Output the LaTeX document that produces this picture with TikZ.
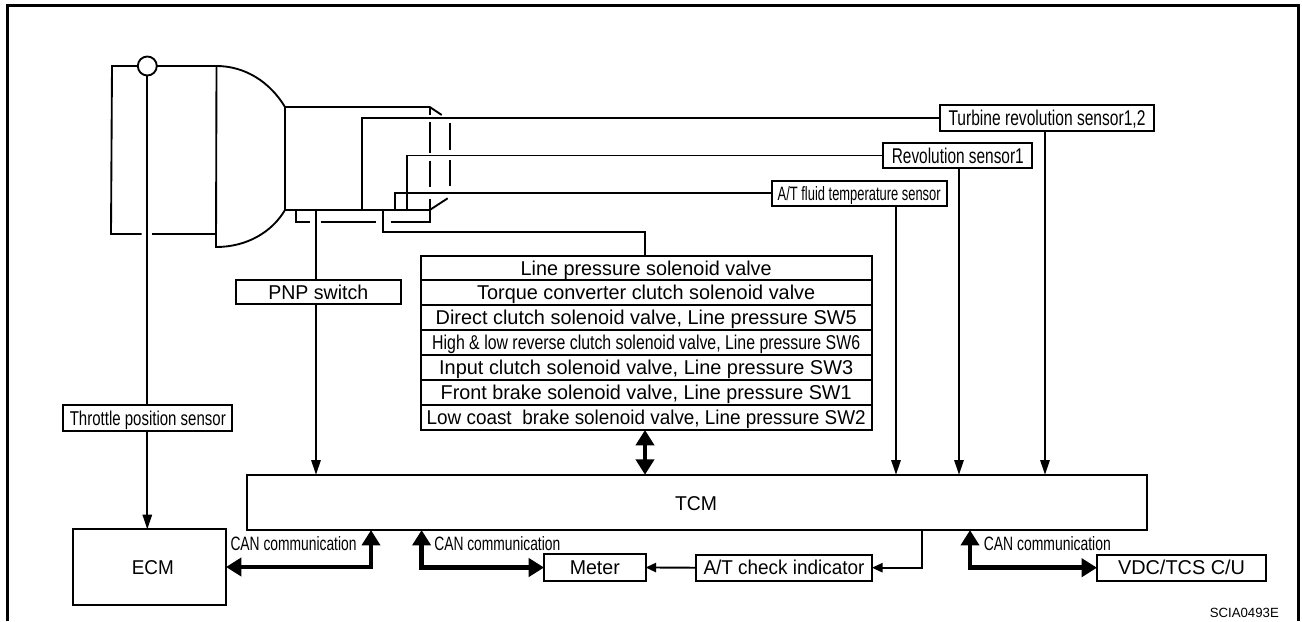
\documentclass[tikz,border=0pt]{standalone}
\usepackage{fontspec}
\usepackage{graphicx}
\setmainfont{Liberation Sans}
\usetikzlibrary{arrows.meta}
% set text to a given width in reference pixels, keeping its height
\newcommand{\fw}[2]{\resizebox{\dimexpr#1pt*3/4\relax}{\height}{#2}}
\tikzset{
  x=0.75pt,y=-0.75pt,
  ln/.style={line width=1.4pt,black},
  frameln/.style={line width=2.25pt,black},
  thin arrow/.style={ln,-{Triangle[length=11pt,width=7pt]}},
  small arrow/.style={ln,-{Triangle[length=8pt,width=7pt]}},
  heavy arrow/.style={line width=3.7pt,black,{Triangle[length=11.5pt,width=13.5pt]}-{Triangle[length=11.5pt,width=13.5pt]}},
  bx/.style={draw,line width=1.5pt,fill=white,inner sep=0pt,outer sep=0pt,text height=10.7pt,text depth=0pt,font=\fontsize{15pt}{17pt}\selectfont},
  tall/.style={text height=11.4pt,font=\fontsize{16pt}{18pt}\selectfont},
  lab/.style={inner sep=0pt,text height=10.4pt,text depth=0pt,font=\fontsize{14.5pt}{16pt}\selectfont},
  tablerow/.style={bx,minimum width=338.25pt,minimum height=18.75pt},
}
\begin{document}
\begin{tikzpicture}
\useasboundingbox (0,0) rectangle (1302,621);
% frame
\draw[frameln] (7.5,621) -- (7.5,5.5) -- (1298.5,5.5) -- (1298.5,621);

% boxes
\node[draw,circle,ln,fill=white,minimum size=14.25pt,inner sep=0pt,outer sep=0pt] (thr) at (147.3,66) {};
\node[bx,minimum width=126.75pt,minimum height=19.3pt] (tps) at (147.8,417.9) {\fw{156}{Throttle position sensor}};
\node[bx,minimum width=123.5pt,minimum height=18.2pt] (pnp) at (318.3,292.2) {\fw{100}{PNP switch}};
\node[bx,tall,minimum width=160.5pt,minimum height=19pt] (turb) at (1047,118) {\fw{197}{Turbine revolution sensor1,2}};
\node[bx,tall,minimum width=111.75pt,minimum height=18.3pt] (rev) at (957.8,155.5) {\fw{132}{Revolution sensor1}};
\node[bx,minimum width=131.25pt,minimum height=18.75pt,text height=10.4pt,font=\fontsize{14.5pt}{16pt}\selectfont] (atf) at (859.2,193.2) {\fw{163}{A/T fluid temperature sensor}};
\node[tablerow] (r1) at (646.2,268) {\fw{251}{Line pressure solenoid valve}};
\node[tablerow] (r2) at (646.2,292.5) {\fw{338}{Torque converter clutch solenoid valve}};
\node[tablerow] (r3) at (646.2,317.5) {\fw{421}{Direct clutch solenoid valve, Line pressure SW5}};
\node[tablerow] (r4) at (646.2,342.5) {\fw{428}{High \& low reverse clutch solenoid valve, Line pressure SW6}};
\node[tablerow] (r5) at (646.2,367.5) {\fw{414}{Input clutch solenoid valve, Line pressure SW3}};
\node[tablerow] (r6) at (646.2,392.5) {\fw{411}{Front brake solenoid valve, Line pressure SW1}};
\node[tablerow] (r7) at (646.2,417.5) {\fw{439}{Low coast\ \ brake solenoid valve, Line pressure SW2}};
\node[bx,minimum width=675.45pt,minimum height=41.5pt] (tcm) at (697,502.4) {};
\node[inner sep=0pt,text height=10.7pt,text depth=0pt,font=\fontsize{15pt}{17pt}\selectfont] (tcmt) at (696,503) {\fw{42}{TCM}};
\node[bx,minimum width=114.75pt,minimum height=56.55pt] (ecm) at (149.5,567) {\hspace*{5pt}\fw{42}{ECM}};
\node[bx,minimum width=76.1pt,minimum height=19.8pt] (meter) at (594.8,567.5) {\fw{50}{Meter}};
\node[bx,minimum width=132pt,minimum height=19.5pt] (atc) at (784,567.7) {\fw{161}{A/T check indicator}};
\node[bx,minimum width=126.75pt,minimum height=19.5pt] (vdc) at (1181.5,567.7) {\fw{127}{VDC/TCS C/U}};

% labels
\node[lab] (can1) at (293.5,544) {\fw{126}{CAN communication}};
\node[lab] (can2) at (497.3,544) {\fw{126}{CAN communication}};
\node[lab] (can3) at (1047.3,544) {\fw{127}{CAN communication}};
\node[inner sep=0pt,text height=7.2pt,text depth=0pt,font=\fontsize{10pt}{12pt}\selectfont] (code) at (1244.3,613) {\fw{69}{SCIA0493E}};

% transmission outline
\draw[ln] (thr.west) -- (112,66) -- (111,234) -- (141.7,234);
\draw[ln] (151.7,234) -- (216.5,234);
\draw[ln] (thr.east) -- (216.5,66) .. controls (245,66) and (270,82) .. (285,107) -- (285,210) .. controls (272,232) and (247,247) .. (216,247) -- (216.5,66);
\draw[ln] (285,107) -- (429.7,107) -- (441.7,115);
\draw[ln] (285,210) -- (429.7,210) -- (447.7,198.3);
\draw[ln] (296,210) -- (296,222.3) -- (310,222.3);
\draw[ln] (320.7,222.3) -- (375.7,222.3);
\draw[ln] (391,222.3) -- (429.7,222.3) -- (429.7,210);
\draw[ln] (429.7,107) -- (429.7,115);
\draw[ln] (429.7,121.7) -- (429.7,153.3);
\draw[ln] (429.7,160.7) -- (429.7,187.3);
\draw[ln] (429.7,199) -- (429.7,210);
\draw[ln] (449.7,123.3) -- (449.7,150);
\draw[ln] (449.7,160) -- (449.7,186);

% tap points and routing coordinates
\coordinate (tapturb) at (362.3,210);
\coordinate (taprev) at (406.7,210);
\coordinate (tapatf) at (394.7,210);
\coordinate (tapsol) at (383.3,210);
\coordinate (tappnp) at (316,210);
\coordinate (solcorner) at (645,231.7);
\coordinate (xsol) at (645,0);
\coordinate (xatf) at (896,0);
\coordinate (xrev) at (959,0);
\coordinate (xturb) at (1045,0);
\coordinate (xcan1) at (371,0);
\coordinate (xcan2) at (421.6,0);
\coordinate (xcan3) at (970,0);
\coordinate (xchk) at (922.4,0);

% sensor wires
\draw[ln] (tapturb) |- (turb.west);
\draw[ln] (taprev) |- (rev.west);
\draw[ln] (tapatf) |- (atf.west);
\draw[ln] (tapsol) |- (solcorner) -- (xsol |- r1.north);
\draw[ln] (tappnp) -- (tappnp |- pnp.north);
\draw[thin arrow] (tappnp |- pnp.south) -- (tappnp |- tcm.north);
\draw[ln] (thr.south) -- (thr.south |- tps.north);
\draw[thin arrow] (thr.south |- tps.south) -- (thr.south |- ecm.north);
\draw[thin arrow] (xatf |- atf.south) -- (xatf |- tcm.north);
\draw[thin arrow] (xrev |- rev.south) -- (xrev |- tcm.north);
\draw[thin arrow] (xturb |- turb.south) -- (xturb |- tcm.north);

% heavy communication lines
\draw[heavy arrow] (xsol |- r7.south) -- (xsol |- tcm.north);
\draw[heavy arrow] (ecm.east) -| (xcan1 |- tcm.south);
\draw[heavy arrow] (xcan2 |- tcm.south) |- (meter.west);
\draw[heavy arrow] (xcan3 |- tcm.south) |- (vdc.west);

% indicator
\draw[small arrow] (xchk |- tcm.south) |- (atc.east);
\draw[small arrow] (atc.west) -- (meter.east);
\end{tikzpicture}
\end{document}
